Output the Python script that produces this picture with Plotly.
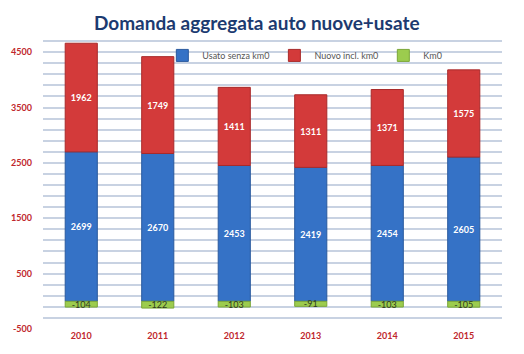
import plotly.graph_objects as go

years = ["2010", "2011", "2012", "2013", "2014", "2015"]
usato = [2699, 2670, 2453, 2419, 2454, 2605]
nuovo = [1962, 1749, 1411, 1311, 1371, 1575]
km0 = [-104, -122, -103, -91, -103, -105]

grid_vals = list(range(-500, 4901, 200))
label_vals = [-500, 500, 1500, 2500, 3500, 4500]
grid_text = [f"<b>{v}</b>" if v in label_vals else "" for v in grid_vals]

FONT = "Lato"
fig = go.Figure()
fig.add_trace(go.Bar(
    x=years, y=usato, name="Usato senza km0",
    marker=dict(color="#3572c6", line=dict(color="#2a5a9e", width=1)),
    text=[f"<b>{v}</b>" for v in usato], textposition="inside",
    insidetextanchor="middle", textfont=dict(color="white", size=9, family=FONT),
))
fig.add_trace(go.Bar(
    x=years, y=nuovo, name="Nuovo incl. km0",
    marker=dict(color="#d33a3a", line=dict(color="#a82a2a", width=1)),
    text=[f"<b>{v}</b>" for v in nuovo], textposition="inside",
    insidetextanchor="middle", textfont=dict(color="white", size=9, family=FONT),
))
fig.add_trace(go.Bar(
    x=years, y=km0, name="Km0",
    marker=dict(color="#9ccc4e", line=dict(color="#7aa638", width=1)),
    text=[str(v) for v in km0], textposition="inside",
    insidetextanchor="middle", textfont=dict(color="#2f3a1f", size=9, family=FONT),
))

fig.update_layout(
    width=524, height=354,
    barmode="relative", bargap=0.58,
    margin=dict(l=43, r=22, t=30, b=25),
    paper_bgcolor="white", plot_bgcolor="white",
    font=dict(family=FONT),
    uniformtext=dict(minsize=9, mode="show"),
    title=dict(text="<b>Domanda aggregata auto nuove+usate</b>",
               x=0.49, xanchor="center", y=0.935, yanchor="middle",
               font=dict(size=19, color="#1c3a70", family=FONT)),
    legend=dict(orientation="h", x=0.26, xanchor="left", y=0.915, yanchor="middle",
                font=dict(size=9, color="#555555", family=FONT),
                bgcolor="rgba(0,0,0,0)", itemwidth=30, tracegroupgap=0),
    xaxis=dict(showgrid=False, showline=False, ticks="",
               tickfont=dict(size=9, color="#c0272d", family=FONT),
               tickprefix="<b>", ticksuffix="</b>"),
    yaxis=dict(range=[-500, 4900], tickvals=grid_vals, ticktext=grid_text,
               showgrid=True, gridcolor="#c8d2e2", gridwidth=1.5,
               zeroline=False, showline=False, ticks="", ticklabelstandoff=10,
               tickfont=dict(size=9, color="#c0272d", family=FONT)),
)

fig.write_html("out.html")
